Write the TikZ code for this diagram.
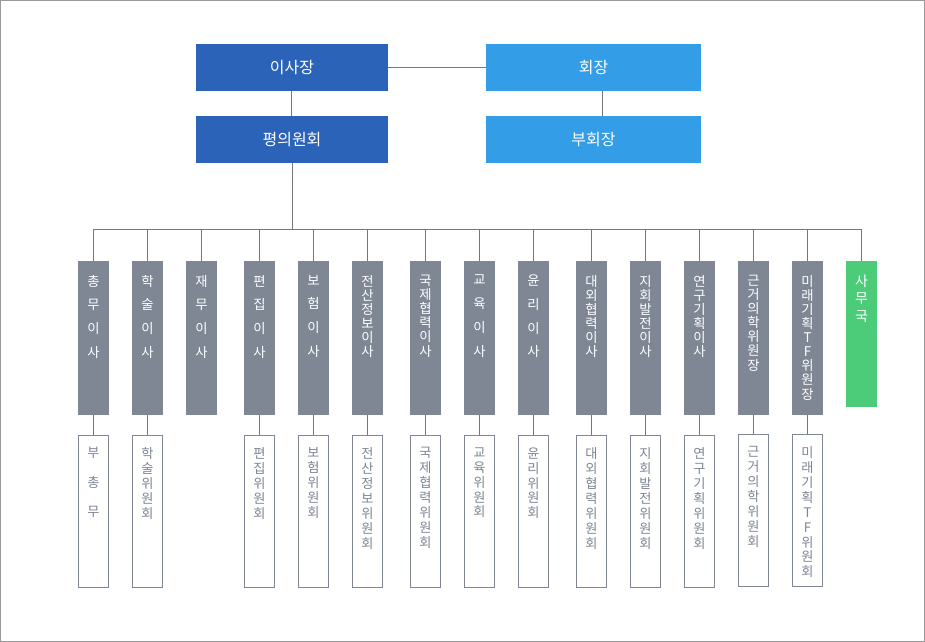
\documentclass[tikz,border=0pt]{standalone}
\usepackage{fontspec}
\setmainfont{Noto Sans CJK KR}
\definecolor{dblue}{HTML}{2B63B8}
\definecolor{lblue}{HTML}{339DE8}
\definecolor{colgray}{HTML}{7F8795}
\definecolor{sgreen}{HTML}{4CCB79}
\definecolor{linegray}{HTML}{777777}
\definecolor{bordergray}{HTML}{9A9A9A}
\definecolor{subtext}{HTML}{7D8594}
\newcommand\orgcol[4]{%
  \node[colbox] (#1) at (#2,338) {};
  \node[#3] (#1t) at ([yshift=-10.5pt]#1.north) {#4};}
\newcommand\orgsub[5]{%
  \node[subbox] (#1) at (#2,#3) {};
  \node[#4] (#1t) at ([yshift=-9.2pt]#1.north) {#5};}
\begin{document}
\begin{tikzpicture}[x=0.75pt,y=-0.75pt,
  topbox/.style={inner sep=0pt, minimum height=35.25pt, text=white,
    font=\fontsize{12}{14}\selectfont},
  colbox/.style={fill=colgray, inner sep=0pt, minimum width=23.25pt, minimum height=115.5pt},
  gbox/.style={fill=sgreen, inner sep=0pt, minimum width=23.25pt, minimum height=109.5pt},
  subbox/.style={draw=colgray, line width=0.75pt, fill=white, inner sep=0pt,
    minimum width=22.5pt, minimum height=114pt},
  tight/.style={anchor=north, inner sep=0pt, text=white, align=center,
    font=\fontsize{10}{10.6}\selectfont},
  wide/.style={anchor=north, inner sep=0pt, text=white, align=center,
    font=\fontsize{10}{17.8}\selectfont},
  subtight/.style={anchor=north, inner sep=0pt, text=subtext, align=center,
    font=\fontsize{9.9}{11.2}\selectfont},
  subwide/.style={anchor=north, inner sep=0pt, text=subtext, align=center,
    font=\fontsize{9.9}{22}\selectfont},
  conn/.style={draw=linegray, line width=0.75pt}]
\useasboundingbox (0,0) rectangle (925,642);
\draw[bordergray, line width=0.75pt] (0.5,0.5) rectangle (924.5,641.5);

% top
\node[topbox, fill=dblue, minimum width=144pt] (isa) at (292,67.5) {이사장};
\node[topbox, fill=dblue, minimum width=144pt] (pyeong) at (292,139.5) {평의원회};
\node[topbox, fill=lblue, minimum width=161.25pt] (hoe) at (593.5,67.5) {회장};
\node[topbox, fill=lblue, minimum width=161.25pt] (buhoe) at (593.5,139.5) {부회장};
\coordinate (rx) at (602.7,0);
\coordinate (lx) at (291.3,0);
\draw[conn] (isa.east) -- (hoe.west);
\draw[conn] (isa.south -| lx) -- (pyeong.north -| lx);
\draw[conn] (hoe.south -| rx) -- (buhoe.north -| rx);

% columns
\orgcol{c1}{93.5}{wide}{총\\무\\이\\사}
\orgcol{c2}{147.5}{wide}{학\\술\\이\\사}
\orgcol{c3}{201.5}{wide}{재\\무\\이\\사}
\orgcol{c4}{259.5}{wide}{편\\집\\이\\사}
\orgcol{c5}{313.5}{wide}{보\\험\\이\\사}
\orgcol{c6}{367.5}{tight}{전\\산\\정\\보\\이\\사}
\orgcol{c7}{425.5}{tight}{국\\제\\협\\력\\이\\사}
\orgcol{c8}{479.5}{wide}{교\\육\\이\\사}
\orgcol{c9}{533.5}{wide}{윤\\리\\이\\사}
\orgcol{c10}{591.5}{tight}{대\\외\\협\\력\\이\\사}
\orgcol{c11}{645.5}{tight}{지\\회\\발\\전\\이\\사}
\orgcol{c12}{699.5}{tight}{연\\구\\기\\획\\이\\사}
\orgcol{c13}{753.5}{tight}{근\\거\\의\\학\\위\\원\\장}
\orgcol{c14}{807.5}{tight}{미\\래\\기\\획\\T\\F\\위\\원\\장}
\node[gbox] (c15) at (861.5,334) {};
\node[tight, font=\fontsize{10.5}{13}\selectfont] (c15t) at ([yshift=-10.5pt]c15.north) {사\\무\\국};

% bus
\coordinate (bus) at (0,229.3);
\draw[conn] (pyeong.south) -- (pyeong.south |- bus);
\draw[conn] (c1.north |- bus) -- (c15.north |- bus);
\foreach \c in {c1,c2,c3,c4,c5,c6,c7,c8,c9,c10,c11,c12,c13,c14,c15}
  \draw[conn] (\c.north) -- (\c.north |- bus);

% sub boxes
\orgsub{s1}{93.5}{511.5}{subwide}{부\\총\\무}
\orgsub{s2}{147.5}{511.5}{subtight}{학\\술\\위\\원\\회}
\orgsub{s4}{259.5}{511.5}{subtight}{편\\집\\위\\원\\회}
\orgsub{s5}{313.5}{511.5}{subtight}{보\\험\\위\\원\\회}
\orgsub{s6}{367.5}{511.5}{subtight}{전\\산\\정\\보\\위\\원\\회}
\orgsub{s7}{425.5}{511.5}{subtight}{국\\제\\협\\력\\위\\원\\회}
\orgsub{s8}{479.5}{511.5}{subtight}{교\\육\\위\\원\\회}
\orgsub{s9}{533.5}{511.5}{subtight}{윤\\리\\위\\원\\회}
\orgsub{s10}{591.5}{511.5}{subtight}{대\\외\\협\\력\\위\\원\\회}
\orgsub{s11}{645.5}{511.5}{subtight}{지\\회\\발\\전\\위\\원\\회}
\orgsub{s12}{699.5}{511.5}{subtight}{연\\구\\기\\획\\위\\원\\회}
\orgsub{s13}{753.5}{510.5}{subtight}{근\\거\\의\\학\\위\\원\\회}
\orgsub{s14}{807.5}{510.5}{subtight}{미\\래\\기\\획\\T\\F\\위\\원\\회}
\foreach \a/\b in {c1/s1,c2/s2,c4/s4,c5/s5,c6/s6,c7/s7,c8/s8,c9/s9,c10/s10,c11/s11,c12/s12,c13/s13,c14/s14}
  \draw[conn] (\a.south) -- (\b.north);
\end{tikzpicture}
\end{document}
